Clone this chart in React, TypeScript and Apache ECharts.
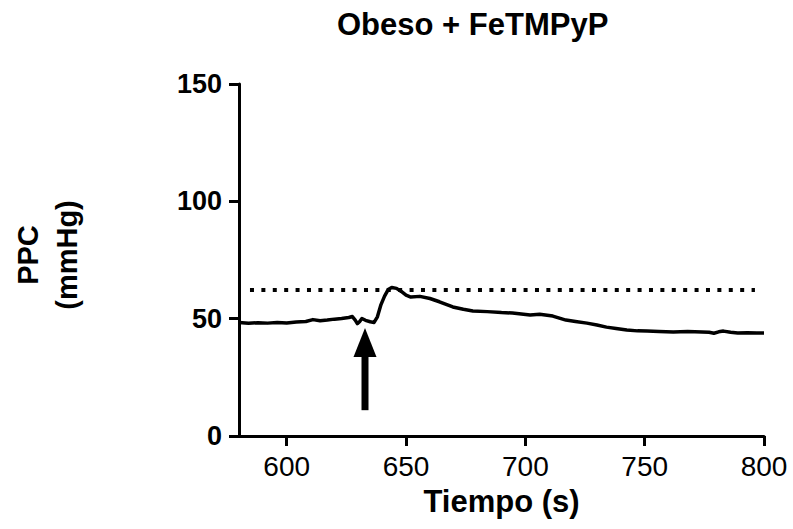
import React, { useEffect, useRef } from "react";
import * as echarts from "echarts";

const titleText = "Obeso + FeTMPyP";
const xAxisName = "Tiempo (s)";
const yAxisName = "PPC\n(mmHg)";
const xTicks = [600, 650, 700, 750, 800];
const yTicks = [0, 50, 100, 150];

const timeValues = [
  580, 584, 588, 592, 596, 600, 604, 608, 611, 614, 617, 620, 623, 626, 627.5,
  628.7, 629.6, 630.5, 631.5, 633, 635, 636.6, 638, 639.5, 641, 642.5, 644, 646,
  648, 650, 652, 655.8, 660, 664, 669.6, 674, 678, 684, 690, 694.6, 702, 706,
  711.5, 717, 721, 725.8, 730, 734, 738, 742.5, 747, 751, 756, 762, 768, 774,
  777, 779, 781, 783, 786, 789, 793, 797, 800,
];
const ppcValues = [
  48.4, 48.0, 48.3, 48.1, 48.4, 48.2, 48.6, 48.8, 49.6, 49.1, 49.4, 49.8, 50.1,
  50.5, 50.9, 49.4, 47.9, 48.7, 50.1, 49.3, 48.7, 48.4, 50.8, 56.0, 59.6, 62.4,
  63.3, 62.9, 61.6, 60.0, 59.2, 59.5, 58.6, 57.2, 55.0, 54.0, 53.3, 53.0, 52.6,
  52.4, 51.6, 51.9, 51.1, 49.4, 48.8, 48.1, 47.3, 46.4, 45.8, 45.2, 44.8, 44.7,
  44.5, 44.3, 44.5, 44.3, 44.2, 43.8, 44.4, 44.7, 44.2, 43.9, 44.0, 43.9, 43.9,
];
const baselineTimes = [584.6, 796.2];
const baselineValue = 62.2;
const arrowTime = 632.8;
const arrowFrom = 11;
const arrowTo = 46;

const FONT = "'Liberation Sans', Arial, Helvetica, sans-serif";

export default function App() {
  const ref = useRef<HTMLDivElement>(null);

  useEffect(() => {
    document.body.style.margin = "0";
    if (!ref.current) return;
    const chart = echarts.init(ref.current, undefined, { renderer: "svg" });

    const lineData = timeValues.map((t, i) => [t, ppcValues[i]]);
    const baseData = baselineTimes.map((t) => [t, baselineValue]);

    chart.setOption({
      animation: false,
      backgroundColor: "#ffffff",
      title: {
        text: titleText,
        left: 337,
        top: 9,
        padding: 0,
        textStyle: {
          fontFamily: FONT,
          fontWeight: "bold",
          fontSize: 31,
          color: "#000",
        },
      },
      graphic: [
        {
          type: "text",
          x: 47,
          y: 255,
          rotation: Math.PI / 2,
          style: {
            text: yAxisName,
            fontFamily: FONT,
            fontWeight: "bold",
            fontSize: 29,
            lineHeight: 39,
            fill: "#000",
            align: "center",
            verticalAlign: "middle",
          },
        },
      ],
      grid: { left: 239, right: 29, top: 84, bottom: 93, containLabel: false },
      xAxis: {
        type: "value",
        min: 580,
        max: 800,
        name: xAxisName,
        nameLocation: "middle",
        nameGap: 50,
        nameTextStyle: {
          fontFamily: FONT,
          fontWeight: "bold",
          fontSize: 31,
          color: "#000",
        },
        splitLine: { show: false },
        axisLine: { show: true, onZero: false, lineStyle: { color: "#000", width: 3 } },
        axisTick: {
          show: true,
          length: 10,
          customValues: xTicks,
          lineStyle: { color: "#000", width: 3 },
        },
        axisLabel: {
          customValues: xTicks,
          margin: 16,
          fontFamily: FONT,
          fontSize: 28,
          color: "#000",
        },
      },
      yAxis: {
        type: "value",
        min: 0,
        max: 150,
        interval: 50,
        splitLine: { show: false },
        axisLine: { show: true, onZero: false, lineStyle: { color: "#000", width: 3 } },
        axisTick: { show: true, length: 10, lineStyle: { color: "#000", width: 3 } },
        axisLabel: {
          margin: 17,
          fontFamily: FONT,
          fontWeight: "bold",
          fontSize: 27,
          color: "#000",
          customValues: yTicks,
        },
      },
      series: [
        {
          name: "PPC",
          type: "line",
          data: lineData,
          showSymbol: false,
          symbol: "none",
          lineStyle: { color: "#000", width: 3.5, join: "round" },
          z: 3,
        },
        {
          name: "Basal",
          type: "line",
          data: baseData,
          showSymbol: false,
          symbol: "none",
          lineStyle: { color: "#000", width: 4, type: [4, 7.4], cap: "butt" },
          z: 2,
        },
        {
          name: "Flecha",
          type: "custom",
          data: [[arrowTime, arrowFrom, arrowTo]],
          encode: { x: 0, y: [1, 2] },
          renderItem: (params: any, api: any) => {
            const x = api.value(0);
            const pBase = api.coord([x, api.value(1)]);
            const pTip = api.coord([x, api.value(2)]);
            const headH = 29;
            const headW = 23;
            const shaftW = 7;
            return {
              type: "group",
              children: [
                {
                  type: "rect",
                  shape: {
                    x: pBase[0] - shaftW / 2,
                    y: pTip[1] + headH - 1,
                    width: shaftW,
                    height: pBase[1] - (pTip[1] + headH - 1),
                  },
                  style: { fill: "#000" },
                },
                {
                  type: "polygon",
                  shape: {
                    points: [
                      [pTip[0], pTip[1]],
                      [pTip[0] - headW / 2, pTip[1] + headH],
                      [pTip[0] + headW / 2, pTip[1] + headH],
                    ],
                  },
                  style: { fill: "#000" },
                },
              ],
            };
          },
          z: 4,
        },
      ],
    });

    return () => chart.dispose();
  }, []);

  return <div ref={ref} style={{ width: 793, height: 529 }} />;
}
